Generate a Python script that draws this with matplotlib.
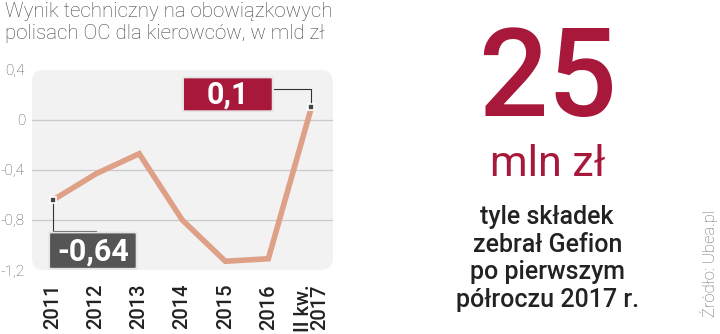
import matplotlib.pyplot as plt
from matplotlib.patches import FancyBboxPatch

plt.rcParams['font.family'] = ['Roboto', 'DejaVu Sans']

# data
years = ['2011', '2012', '2013', '2014', '2015', '2016', 'II kw.\n2017']
result = [-0.64, -0.43, -0.27, -0.80, -1.13, -1.11, 0.10]
yticks = [0.4, 0, -0.4, -0.8, -1.2]
ytick_labels = ['0,4', '0', '-0,4', '-0,8', '-1,2']

title = 'Wynik techniczny na obowiązkowych\npolisach OC dla kierowców, w mld zł'
big_number = '25'
big_unit = 'mln zł'
note = 'tyle składek\nzebrał Gefion\npo pierwszym\npółroczu 2017 r.'
source = 'Źródło: Ubea.pl'

RED = '#a8183a'
LINE = '#dea086'
DARK = '#555555'

fig = plt.figure(figsize=(7.2, 3.34), dpi=100)
fig.patch.set_facecolor('white')

ax = fig.add_axes([0.0444, 0.1916, 0.418, 0.599])
ax.set_facecolor('none')
ax.set_xlim(-0.49, 6.5)
ax.set_ylim(-1.2, 0.4)

# rounded light grey plot background
bg = FancyBboxPatch((0, 0), 1, 1, boxstyle='round,pad=0,rounding_size=0.04',
                    transform=ax.transAxes, facecolor='#f2f2f2', edgecolor='none',
                    zorder=0, mutation_aspect=300 / 200)
ax.add_patch(bg)

for y in yticks[1:-1]:
    ax.axhline(y, color='#c9c9c9', lw=0.9, zorder=1)

x = list(range(len(years)))
ax.plot(x, result, color=LINE, lw=4, solid_joinstyle='miter', zorder=2)

for s in ax.spines.values():
    s.set_visible(False)
ax.tick_params(length=0)
ax.set_yticks(yticks)
ax.set_yticklabels(ytick_labels, fontsize=11, color='#555555', fontweight='light')
ax.tick_params(axis='y', pad=5)
ax.set_xticks(x)
ax.set_xticklabels(years, rotation=90, fontsize=14.5, color='#222222',
                   fontweight='medium', linespacing=0.8, va='top', ha='center')
ax.tick_params(axis='x', pad=10)

# value callouts: connector, marker and a label box
first, last = 0, len(result) - 1


def callout(x0, y0, w, h, text, color):
    box = FancyBboxPatch((x0, y0), w, h, boxstyle='round,pad=0,rounding_size=0.08',
                         mutation_aspect=0.045, facecolor=color, edgecolor='#e4e4e4',
                         lw=1.3, zorder=6)
    ax.add_patch(box)
    ax.text(x0 + w / 2, y0 + h / 2 - 0.005, text, color='white', fontsize=22,
            fontweight='bold', ha='center', va='center', zorder=7)


ax.plot([last - 0.88, last, last], [0.25, 0.25, result[last]], color='#333333', lw=0.8, zorder=3)
ax.plot([first, first, first + 1], [result[first], -0.89, -0.89], color='#333333', lw=0.8, zorder=3)
ax.plot([first, last], [result[first], result[last]], ls='none', marker='s', ms=5,
        mfc='#444444', mec='white', mew=1.2, zorder=5)

callout(last - 2.98, 0.07, 2.08, 0.27, '0,1', RED)
callout(first - 0.09, -1.19, 2.03, 0.29, '-0,64', DARK)

# title
fig.text(0.007, 0.995, title, ha='left', va='top', fontsize=14.8, color='#444444',
         fontweight='light', linespacing=1.2)

# right side note
fig.text(0.76, 0.652, big_number, ha='center', va='baseline', fontsize=88, color=RED,
         fontweight='medium')
fig.text(0.76, 0.472, big_unit, ha='center', va='baseline', fontsize=31, color=RED)
fig.text(0.76, 0.08, note, ha='center', va='baseline', fontsize=18, color='#222222',
         fontweight='medium', linespacing=1.2)
fig.text(0.985, 0.05, source, ha='center', va='bottom', rotation=90, fontsize=12,
         color='#666666', fontweight='light')

fig.savefig('out.png', dpi=100)
